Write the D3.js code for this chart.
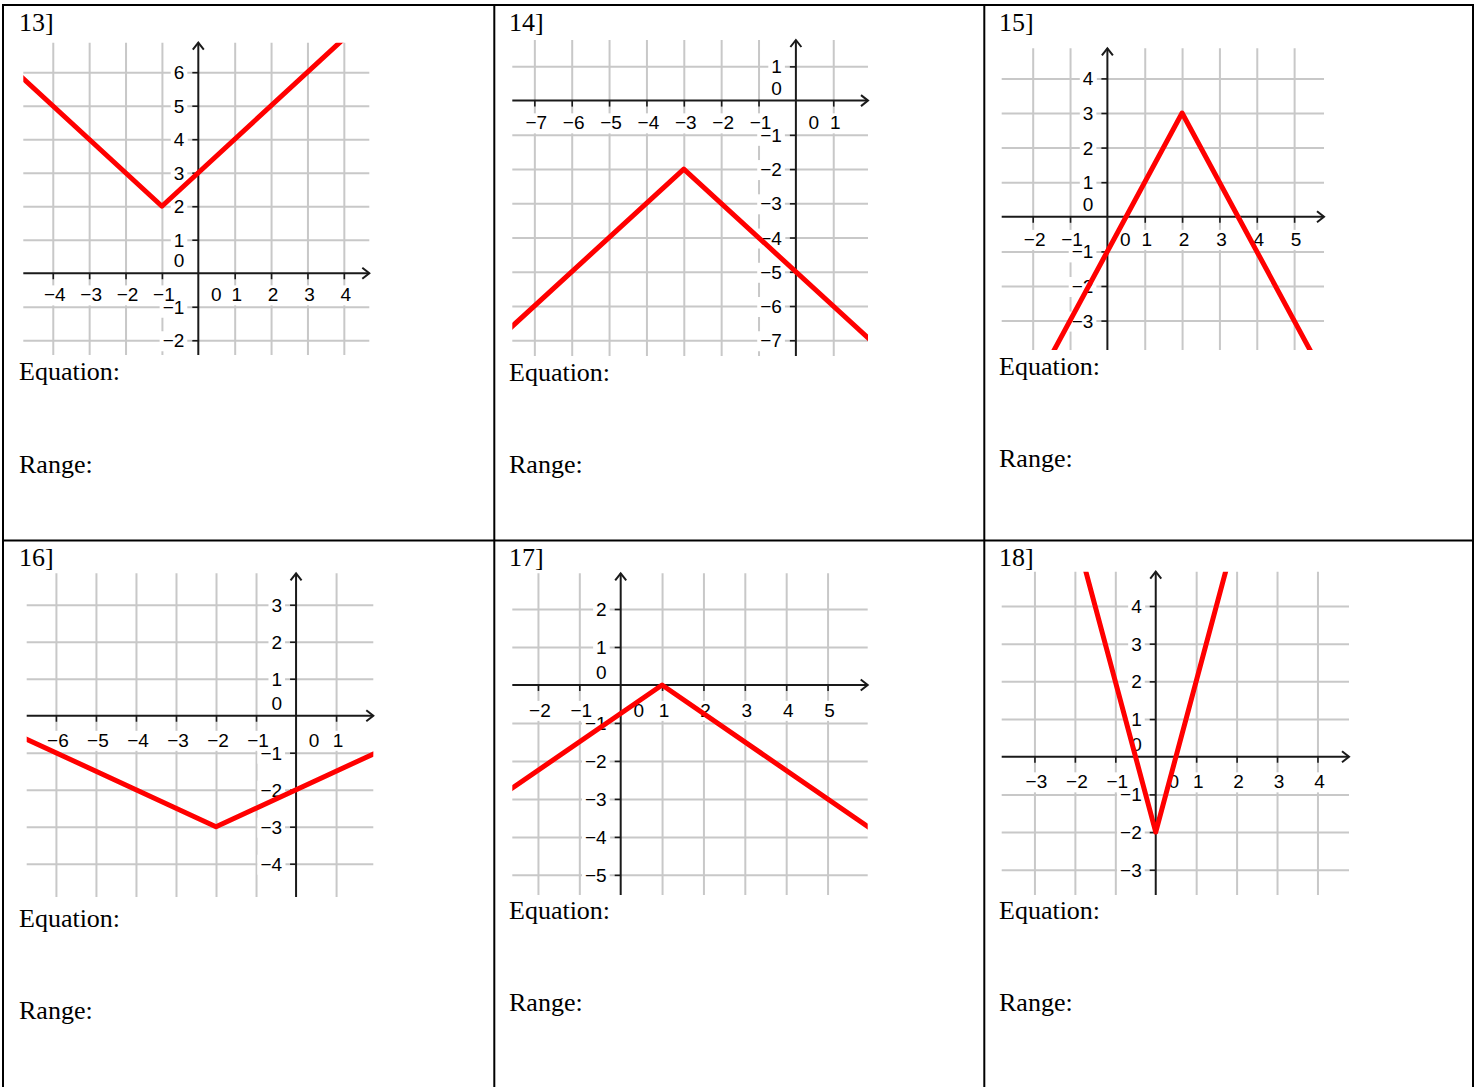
<!DOCTYPE html>
<html>
<head>
<meta charset="utf-8">
<script src="https://cdn.jsdelivr.net/npm/d3@7"></script>
<style>
  html, body { margin: 0; padding: 0; background: #fff; }
  svg { display: block; }
</style>
</head>
<body>
<svg id="sheet" width="1478" height="1087"></svg>
<script>
// ---- worksheet content ----
const problemLabels = ["13]", "14]", "15]", "16]", "17]", "18]"];
const promptLabels = ["Equation:", "Range:"];

// visible window of each coordinate plane
const xRanges = [[-4.81, 4.70], [-7.59, 1.93], [-2.83, 5.80], [-6.73, 1.93], [-2.62, 5.97], [-3.81, 4.78]];
const yRanges = [[-2.44, 6.88], [-7.46, 1.77], [-3.85, 4.87], [-4.90, 3.85], [-5.53, 2.94], [-3.67, 4.91]];

// integer ticks / grid lines on each plane
const xTickValues = [
  [-4, -3, -2, -1, 0, 1, 2, 3, 4],
  [-7, -6, -5, -4, -3, -2, -1, 0, 1],
  [-2, -1, 0, 1, 2, 3, 4, 5],
  [-6, -5, -4, -3, -2, -1, 0, 1],
  [-2, -1, 0, 1, 2, 3, 4, 5],
  [-3, -2, -1, 0, 1, 2, 3, 4]
];
const yTickValues = [
  [-2, -1, 0, 1, 2, 3, 4, 5, 6],
  [-7, -6, -5, -4, -3, -2, -1, 0, 1],
  [-3, -2, -1, 0, 1, 2, 3, 4],
  [-4, -3, -2, -1, 0, 1, 2, 3],
  [-5, -4, -3, -2, -1, 0, 1, 2],
  [-3, -2, -1, 0, 1, 2, 3, 4]
];

// corner points of each absolute-value graph (outer points run past the window)
const graphPoints = [
  [[-6, 7], [-1, 2], [5, 8]],
  [[-8, -7], [-3, -2], [2, -7]],
  [[-1.5, -4], [2, 3], [5.5, -4]],
  [[-8, 0], [-2, -3], [2, -1]],
  [[-3, -3], [1, 0], [7, -4.5]],
  [[-2, 6], [0, -2], [2, 6]]
];

// ---- page layout ----
const plotBoxes = [
  { left: 23.3,   right: 369.3, top: 42.7,  bottom: 355 },
  { left: 512.3,  right: 868,   top: 40,    bottom: 356 },
  { left: 1001.7, right: 1324,  top: 48.3,  bottom: 350 },
  { left: 26.7,   right: 373.3, top: 573.3, bottom: 897 },
  { left: 512.3,  right: 867.7, top: 573.3, bottom: 895 },
  { left: 1001.7, right: 1349,  top: 571.7, bottom: 895 }
];
const textX = [19, 509, 999, 19, 509, 999];
const titleY = [31, 31, 31, 566, 566, 566];
const equationY = [380, 381, 375, 927, 919, 919];
const rangeY = [473, 473, 467, 1019, 1011, 1011];

const svg = d3.select("#sheet");
const minus = v => (v < 0 ? "\u2212" + Math.abs(v) : String(v));

const GRID = "#c8c8c8";
const AXIS = "#1a1a1a";
const LABEL_FONT = "'Liberation Sans', Arial, sans-serif";
const SERIF = "'Liberation Serif', 'Times New Roman', serif";

function drawPlane(i) {
  const box = plotBoxes[i];
  const g = svg.append("g").attr("class", "plane plane-" + i);
  const x = d3.scaleLinear().domain(xRanges[i]).range([box.left, box.right]);
  const y = d3.scaleLinear().domain(yRanges[i]).range([box.bottom, box.top]);
  const x0 = x(0), y0 = y(0);
  const unitY = y(-1) - y(0);

  // grid lines via axis generators with full-length ticks
  g.append("g")
    .attr("transform", `translate(0,${box.bottom})`)
    .call(d3.axisBottom(x).tickValues(xTickValues[i].filter(v => v !== 0))
      .tickSize(-(box.bottom - box.top)).tickFormat(""))
    .call(a => a.select(".domain").remove())
    .call(a => a.selectAll("line").attr("stroke", GRID).attr("stroke-width", 2));
  g.append("g")
    .attr("transform", `translate(${box.left},0)`)
    .call(d3.axisLeft(y).tickValues(yTickValues[i].filter(v => v !== 0))
      .tickSize(-(box.right - box.left)).tickFormat(""))
    .call(a => a.select(".domain").remove())
    .call(a => a.selectAll("line").attr("stroke", GRID).attr("stroke-width", 2));

  // tick labels with white backing
  const labels = [];
  xTickValues[i].forEach(v => {
    labels.push({
      text: minus(v),
      x: v === 0 ? x0 + 18 : x(v) + 2,
      y: y0 + unitY * 0.84,
      anchor: "middle"
    });
  });
  yTickValues[i].forEach(v => {
    labels.push({
      text: minus(v),
      x: x0 - 14,
      y: v === 0 ? y0 - 6 : y(v) + 7,
      anchor: "end"
    });
  });
  const lg = g.append("g");
  const texts = lg.selectAll("text").data(labels).join("text")
    .attr("x", d => d.x).attr("y", d => d.y)
    .attr("text-anchor", d => d.anchor)
    .attr("font-family", LABEL_FONT)
    .attr("font-size", 19)
    .attr("fill", "#000")
    .text(d => d.text);
  texts.each(function () {
    const b = this.getBBox();
    lg.insert("rect", "text")
      .attr("x", b.x - 3).attr("y", b.y + 1)
      .attr("width", b.width + 6).attr("height", b.height - 1)
      .attr("fill", "#fff");
  });

  // axis tick marks
  g.append("g")
    .attr("transform", `translate(0,${y0})`)
    .call(d3.axisBottom(x).tickValues(xTickValues[i].filter(v => v !== 0))
      .tickSize(6).tickFormat(""))
    .call(a => a.select(".domain").remove())
    .call(a => a.selectAll("line").attr("stroke", AXIS).attr("stroke-width", 1.6));
  g.append("g")
    .attr("transform", `translate(${x0},0)`)
    .call(d3.axisLeft(y).tickValues(yTickValues[i].filter(v => v !== 0))
      .tickSize(6).tickFormat(""))
    .call(a => a.select(".domain").remove())
    .call(a => a.selectAll("line").attr("stroke", AXIS).attr("stroke-width", 1.6));

  // axes with open arrowheads
  g.append("line")
    .attr("x1", box.left).attr("x2", box.right)
    .attr("y1", y0).attr("y2", y0)
    .attr("stroke", AXIS).attr("stroke-width", 2);
  g.append("line")
    .attr("x1", x0).attr("x2", x0)
    .attr("y1", box.bottom).attr("y2", box.top)
    .attr("stroke", AXIS).attr("stroke-width", 2);
  g.append("path")
    .attr("d", `M${box.right - 7},${y0 - 5.5}L${box.right},${y0}L${box.right - 7},${y0 + 5.5}`)
    .attr("fill", "none").attr("stroke", AXIS).attr("stroke-width", 2);
  g.append("path")
    .attr("d", `M${x0 - 5.5},${box.top + 7}L${x0},${box.top}L${x0 + 5.5},${box.top + 7}`)
    .attr("fill", "none").attr("stroke", AXIS).attr("stroke-width", 2);

  // the graph, clipped to the window
  const clipId = "clip-" + i;
  svg.append("clipPath").attr("id", clipId)
    .append("rect")
    .attr("x", box.left).attr("y", box.top)
    .attr("width", box.right - box.left).attr("height", box.bottom - box.top);
  g.append("path")
    .datum(graphPoints[i])
    .attr("clip-path", `url(#${clipId})`)
    .attr("d", d3.line().x(d => x(d[0])).y(d => y(d[1])))
    .attr("fill", "none")
    .attr("stroke", "#ff0000")
    .attr("stroke-width", 5)
    .attr("stroke-linejoin", "round");

  // captions
  const cap = svg.append("g")
    .attr("font-family", SERIF).attr("font-size", 26).attr("fill", "#000");
  cap.append("text").attr("x", textX[i]).attr("y", titleY[i]).text(problemLabels[i]);
  cap.append("text").attr("x", textX[i]).attr("y", equationY[i]).text(promptLabels[0]);
  cap.append("text").attr("x", textX[i]).attr("y", rangeY[i]).text(promptLabels[1]);
}

d3.range(problemLabels.length).forEach(drawPlane);

// table rules
const rules = svg.append("g").attr("stroke", "#000").attr("stroke-width", 2);
rules.append("line").attr("x1", 2).attr("x2", 1474).attr("y1", 5).attr("y2", 5);
rules.append("line").attr("x1", 3).attr("x2", 3).attr("y1", 4).attr("y2", 1087);
rules.append("line").attr("x1", 1473).attr("x2", 1473).attr("y1", 4).attr("y2", 1087);
rules.append("line").attr("x1", 494.3).attr("x2", 494.3).attr("y1", 4).attr("y2", 1087);
rules.append("line").attr("x1", 984.3).attr("x2", 984.3).attr("y1", 4).attr("y2", 1087);
rules.append("line").attr("x1", 2).attr("x2", 1474).attr("y1", 540.5).attr("y2", 540.5);
</script>
</body>
</html>
